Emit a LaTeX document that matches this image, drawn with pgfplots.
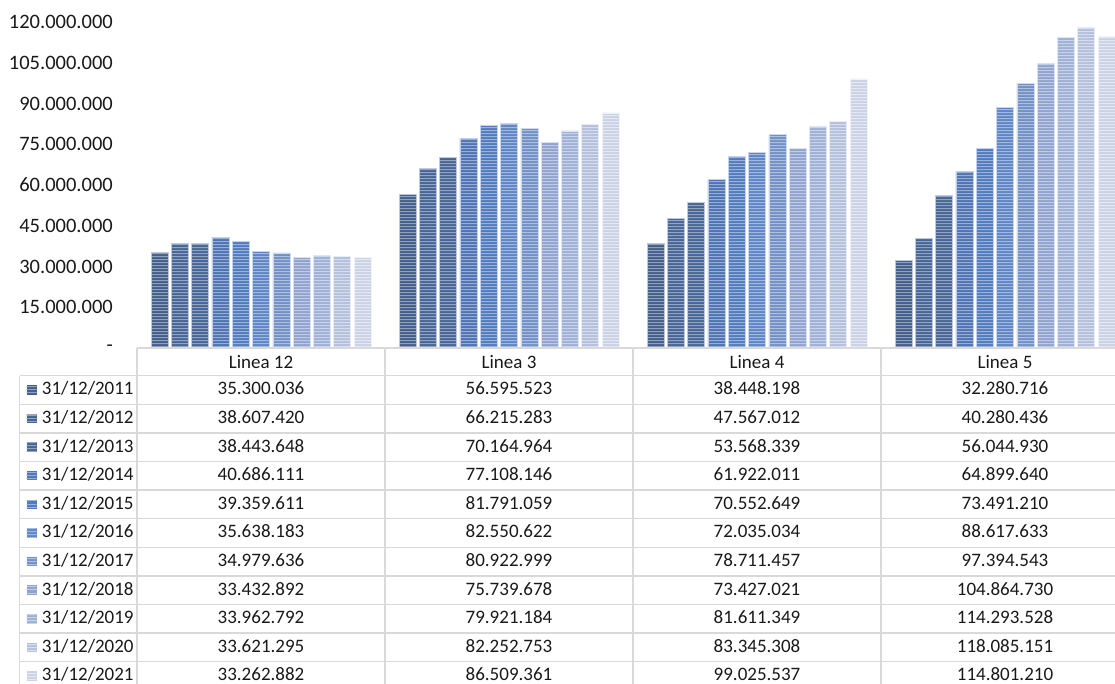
\documentclass[border=0pt]{standalone}
\usepackage{fontspec}
\setmainfont{Carlito}
\usepackage{pgfplots}
\usepackage{pgfplotstable}
\pgfplotsset{compat=1.18}
\usetikzlibrary{patterns}

% Year shades, darkest (2011) to lightest (2021)
\definecolor{s0}{RGB}{70,98,142}
\definecolor{s1}{RGB}{74,105,154}
\definecolor{s2}{RGB}{74,104,154}
\definecolor{s3}{RGB}{82,120,185}
\definecolor{s4}{RGB}{86,128,196}
\definecolor{s5}{RGB}{100,139,204}
\definecolor{s6}{RGB}{120,150,205}
\definecolor{s7}{RGB}{150,170,212}
\definecolor{s8}{RGB}{165,183,220}
\definecolor{s9}{RGB}{188,200,228}
\definecolor{s10}{RGB}{210,218,236}
\definecolor{gridgray}{RGB}{217,217,217}
\definecolor{txt}{RGB}{25,25,25}

% wide tile of thin horizontal stripes
\pgfdeclarepatternformonly{hstripes}{\pgfpoint{0pt}{0pt}}{\pgfpoint{300pt}{3.3pt}}{\pgfpoint{300pt}{3.3pt}}{
  \pgfpathrectangle{\pgfpoint{-1pt}{1.1pt}}{\pgfpoint{302pt}{1.1pt}}
  \pgfusepath{fill}
}

% One row per line, one column per year-end
\pgfplotstableread{
cat y2011 y2012 y2013 y2014 y2015 y2016 y2017 y2018 y2019 y2020 y2021
0 35300036 38607420 38443648 40686111 39359611 35638183 34979636 33432892 33962792 33621295 33262882
1 56595523 66215283 70164964 77108146 81791059 82550622 80922999 75739678 79921184 82252753 86509361
2 38448198 47567012 53568339 61922011 70552649 72035034 78711457 73427021 81611349 83345308 99025537
3 32280716 40280436 56044930 64899640 73491210 88617633 97394543 104864730 114293528 118085151 114801210
}\lines

% 12345678 -> 12.345.678, 123456789 -> 123.456.789
\def\doteight#1#2#3#4#5#6#7#8\relax{#1#2.#3#4#5.#6#7#8}
\def\dotnine#1#2#3#4#5#6#7#8#9\relax{#1#2#3.#4#5#6.#7#8#9}
\def\dotnum#1\relax{\ifnum#1>99999999 \dotnine#1\relax\else\doteight#1\relax\fi}

\tikzset{
  striped/.style={fill=#1!96!black,
    postaction={pattern=hstripes,pattern color=#1!60!white}},
}
\pgfplotsset{
  yearbar/.style 2 args={ybar, bar width=17pt, bar shift=#2pt,
    draw=#1!35!white, line width=0.6pt, striped=#1},
}

\begin{document}
\begin{tikzpicture}[font=\fontsize{19}{23}\selectfont, text=txt]
\useasboundingbox (0,0) rectangle (1115pt,684pt);
\begin{axis}[
  at={(137pt,336pt)}, anchor=south west,
  scale only axis, width=992pt, height=326pt,
  xmin=-0.5, xmax=3.5, ymin=0, ymax=120000000,
  axis line style={draw=none},
  xtick=\empty,
  ytick={0,15000000,30000000,45000000,60000000,75000000,90000000,105000000,120000000},
  yticklabels={-,15.000.000,30.000.000,45.000.000,60.000.000,75.000.000,90.000.000,105.000.000,120.000.000},
  scaled y ticks=false,
  major tick length=0pt,
  yticklabel style={font=\fontsize{20.5}{24}\selectfont, text=txt, anchor=east, inner sep=0pt, xshift=-24pt},
  clip=false,
]
\addplot[yearbar={s0}{-101.5}] table[x=cat,y=y2011]{\lines};
\addplot[yearbar={s1}{-81.2}] table[x=cat,y=y2012]{\lines};
\addplot[yearbar={s2}{-60.9}] table[x=cat,y=y2013]{\lines};
\addplot[yearbar={s3}{-40.6}] table[x=cat,y=y2014]{\lines};
\addplot[yearbar={s4}{-20.3}] table[x=cat,y=y2015]{\lines};
\addplot[yearbar={s5}{0}] table[x=cat,y=y2016]{\lines};
\addplot[yearbar={s6}{20.3}] table[x=cat,y=y2017]{\lines};
\addplot[yearbar={s7}{40.6}] table[x=cat,y=y2018]{\lines};
\addplot[yearbar={s8}{60.9}] table[x=cat,y=y2019]{\lines};
\addplot[yearbar={s9}{81.2}] table[x=cat,y=y2020]{\lines};
\addplot[yearbar={s10}{101.5}] table[x=cat,y=y2021]{\lines};
\end{axis}

% data table grid
\begin{scope}[draw=gridgray, line width=1.3pt]
  \draw (137pt,336pt) -- (1129pt,336pt);
  \foreach \k in {0,...,11} {
    \pgfmathsetmacro\ly{308.3-28.6*\k}
    \draw (19.5pt,\ly pt) -- (1129pt,\ly pt);
  }
  \draw (19.5pt,308.3pt) -- (19.5pt,-10pt);
  \foreach \x in {137,385,633,881,1129} \draw (\x pt,336pt) -- (\x pt,-10pt);
\end{scope}

% column headers
\foreach \c/\name in {0/Linea 12,1/Linea 3,2/Linea 4,3/Linea 5} {
  \pgfmathsetmacro\cx{261+248*\c}
  \node[anchor=base, inner sep=0pt] at (\cx pt,315pt) {\name};
}

% rows: key, date and the four values
\foreach \k in {0,...,10} {
  \pgfmathtruncatemacro\yr{2011+\k}
  \pgfmathsetmacro\by{289-28.6*\k}
  \pgfmathsetmacro\cy{294-28.6*\k}
  \path[striped=s\k] (26.7pt,\cy pt-4.7pt) rectangle (36.7pt,\cy pt+4.7pt);
  \node[anchor=base west, inner sep=0pt] at (41.7pt,\by pt) {31/12/\yr};
  \foreach \c in {0,...,3} {
    \pgfplotstablegetelem{\c}{y\yr}\of\lines
    \let\val\pgfplotsretval
    \pgfmathsetmacro\cx{261+248*\c}
    \node[anchor=base, inner sep=0pt] at (\cx pt,\by pt) {\expandafter\dotnum\val\relax};
  }
}
\end{tikzpicture}
\end{document}
